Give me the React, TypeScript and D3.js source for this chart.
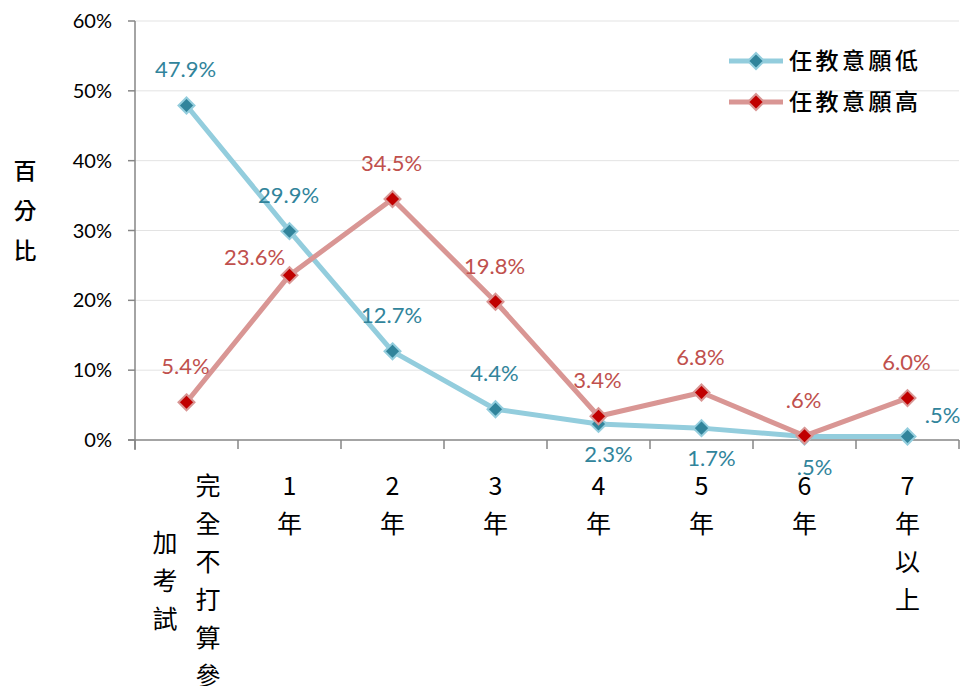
import * as d3 from "d3";

const categories = ["完全不打算參加考試", "1年", "2年", "3年", "4年", "5年", "6年", "7年以上"];
const seriesNames = ["任教意願低", "任教意願高"];
const lowValues = [47.9, 29.9, 12.7, 4.4, 2.3, 1.7, 0.5, 0.5];
const highValues = [5.4, 23.6, 34.5, 19.8, 3.4, 6.8, 0.6, 6.0];
const yTicks = [0, 10, 20, 30, 40, 50, 60];
const lowLabelSides = ["above", "above", "above", "above", "below", "below", "below", "right"];
const highLabelSides = ["above", "left", "above", "above", "above", "above", "above", "above"];

const W = 962;
const H = 686;
const LATIN = "Lato, 'Open Sans', sans-serif";
const CJK = "'Noto Sans CJK TC', 'Noto Sans CJK SC', sans-serif";

const series = [
  { name: seriesNames[0], values: lowValues, sides: lowLabelSides, line: "#93CDDD", mark: "#31849B", text: "#31849B" },
  { name: seriesNames[1], values: highValues, sides: highLabelSides, line: "#D99694", mark: "#C00000", text: "#C0504D" },
];

const fmt = (v: number) => {
  const s = v.toFixed(1) + "%";
  return v < 1 ? s.slice(1) : s;
};

const Diamond = ({ x, y, fill, stroke }: any) => (
  <path
    d={`M${x},${y - 8}L${x + 8},${y}L${x},${y + 8}L${x - 8},${y}Z`}
    fill={fill}
    stroke={stroke}
    strokeWidth={2}
  />
);

export default function App() {
  const x = d3.scaleBand<string>().domain(categories).range([135, 959]);
  const y = d3.scaleLinear().domain([0, 60]).range([440, 21]);
  const cx = (c: string) => (x(c) as number) + x.bandwidth() / 2;

  const line = d3
    .line<number>()
    .x((_, i) => cx(categories[i]))
    .y((d) => y(d));

  const labelPos = (side: string, px: number, py: number) => {
    if (side === "below") return [px + 10, py + 38];
    if (side === "right") return [px + 35, py - 14];
    if (side === "left") return [px - 35, py - 10];
    return [px - 1, py - 28];
  };

  const rowH = 38;
  const maxCol = 6;

  return (
    <svg width={W} height={H} style={{ position: "absolute", left: 0, top: 0 }}>
      <rect width={W} height={H} fill="#fff" />
      {yTicks.slice(1).map((t) => (
        <line key={t} x1={135} x2={959} y1={y(t)} y2={y(t)} stroke="#E3E3E3" strokeWidth={1} />
      ))}
      <line x1={135} x2={135} y1={21} y2={450} stroke="#868686" strokeWidth={1.5} />
      <line x1={128} x2={959} y1={440} y2={440} stroke="#868686" strokeWidth={1.5} />
      {yTicks.map((t) => (
        <g key={t}>
          <line x1={128} x2={135} y1={y(t)} y2={y(t)} stroke="#868686" strokeWidth={1.5} />
          <text x={112} y={y(t) + 7} textAnchor="end" fontFamily={LATIN} fontSize={20} fill="#000">
            {t}%
          </text>
        </g>
      ))}
      {categories.map((c, i) => (
        <line key={i} x1={x(c)} x2={x(c)} y1={440} y2={449} stroke="#868686" strokeWidth={1.5} />
      ))}
      <line x1={959} x2={959} y1={440} y2={449} stroke="#868686" strokeWidth={1.5} />

      {categories.map((c, i) => {
        const chars = Array.from(c);
        const cols: string[][] = [];
        for (let k = 0; k < chars.length; k += maxCol) cols.push(chars.slice(k, k + maxCol));
        const L = cols[0].length;
        const colW = 43;
        return (
          <g key={c}>
            {cols.map((col, j) => {
              const colX = cx(c) + ((cols.length - 1) / 2 - j) * colW;
              const top = 486 + ((L - col.length) / 2) * rowH;
              return col.map((ch, k) => (
                <text
                  key={`${j}-${k}`}
                  x={colX}
                  y={top + k * rowH + 9}
                  textAnchor="middle"
                  fontFamily={CJK}
                  fontSize={25}
                  fill="#000"
                >
                  {ch}
                </text>
              ));
            })}
          </g>
        );
      })}

      {["百", "分", "比"].map((ch, i) => (
        <text key={ch} x={25} y={171 + i * 40 + 8} textAnchor="middle" fontFamily={CJK} fontSize={23} fontWeight={500} fill="#000">
          {ch}
        </text>
      ))}

      {series.map((s) => (
        <g key={s.name}>
          <path d={line(s.values) || ""} fill="none" stroke={s.line} strokeWidth={5} strokeLinejoin="round" />
          {s.values.map((v, i) => (
            <Diamond key={i} x={cx(categories[i])} y={y(v)} fill={s.mark} stroke={s.line} />
          ))}
        </g>
      ))}
      {series.map((s) => (
        <g key={s.name + "-labels"}>
          {s.values.map((v, i) => {
            const [lx, ly] = labelPos(s.sides[i], cx(categories[i]), y(v));
            return (
              <text key={i} x={lx} y={ly} textAnchor="middle" fontFamily={LATIN} fontSize={22} fill={s.text}>
                {fmt(v)}
              </text>
            );
          })}
        </g>
      ))}

      {series.map((s, i) => {
        const ly = 61 + i * 41;
        return (
          <g key={s.name + "-legend"}>
            <line x1={729} x2={783} y1={ly} y2={ly} stroke={s.line} strokeWidth={5} />
            <Diamond x={756} y={ly} fill={s.mark} stroke={s.line} />
            <text x={789} y={ly + 8} fontFamily={CJK} fontSize={23} fontWeight={500} letterSpacing={3.5} fill="#000">
              {s.name}
            </text>
          </g>
        );
      })}
    </svg>
  );
}
